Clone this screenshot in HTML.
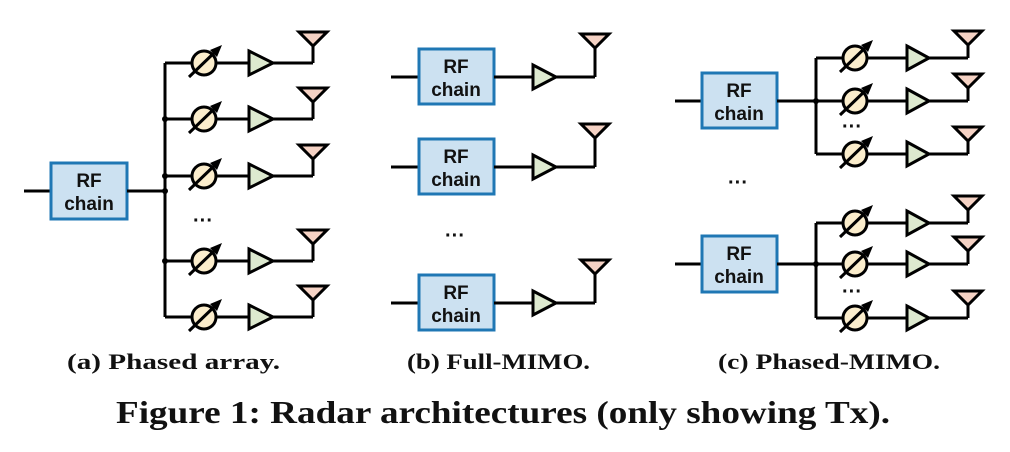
<!DOCTYPE html>
<html><head><meta charset="utf-8"><style>
html,body{margin:0;padding:0;background:#fff;}
svg{display:block;}
.rf{font-family:"Liberation Sans",sans-serif;font-weight:bold;font-size:19px;fill:#111;text-anchor:middle;}
.cap{font-family:"Liberation Serif",serif;font-weight:bold;font-size:22px;fill:#111;}
.dots{font-family:"Liberation Sans",sans-serif;font-weight:bold;font-size:20px;fill:#111;text-anchor:middle;}
</style></head><body>
<svg id="s" width="1010" height="452" viewBox="0 0 1010 452" xmlns="http://www.w3.org/2000/svg">
<g id="g" stroke="#000" stroke-width="3" fill="none"></g>
<text class="rf" x="89" y="187">RF</text><text class="rf" x="89" y="210">chain</text>
<text class="rf" x="456" y="73">RF</text><text class="rf" x="456" y="96">chain</text>
<text class="rf" x="456" y="163">RF</text><text class="rf" x="456" y="186">chain</text>
<text class="rf" x="456" y="299">RF</text><text class="rf" x="456" y="322">chain</text>
<text class="rf" x="739" y="97">RF</text><text class="rf" x="739" y="120">chain</text>
<text class="rf" x="739" y="260">RF</text><text class="rf" x="739" y="283">chain</text>
<text class="dots" x="203" y="227">···</text>
<text class="dots" x="455" y="242">···</text>
<text class="dots" x="738" y="189">···</text>
<text class="dots" x="852" y="133">···</text>
<text class="dots" x="852" y="298">···</text>
<text class="cap" x="67" y="369" textLength="213" lengthAdjust="spacingAndGlyphs">(a) Phased array.</text>
<text class="cap" x="407" y="369" textLength="183" lengthAdjust="spacingAndGlyphs">(b) Full-MIMO.</text>
<text class="cap" x="718" y="369" textLength="222" lengthAdjust="spacingAndGlyphs">(c) Phased-MIMO.</text>
<text class="cap" x="116" y="423" style="font-size:32px" textLength="774" lengthAdjust="spacingAndGlyphs">Figure 1: Radar architectures (only showing Tx).</text>
</svg>
<script>
var g=document.getElementById('g'),h='';
function L(x1,y1,x2,y2){h+='<line x1="'+x1+'" y1="'+y1+'" x2="'+x2+'" y2="'+y2+'"/>';}
function box(x1,y1,x2,y2){h+='<rect x="'+x1+'" y="'+y1+'" width="'+(x2-x1)+'" height="'+(y2-y1)+'" fill="#cce1f1" stroke="#1f77b4"/>';}
function amp(x1,x2,y){h+='<polygon points="'+x1+','+(y-12)+' '+x2+','+y+' '+x1+','+(y+12)+'" fill="#dde9cf"/>';}
function ant(x,y,yt){h+='<polyline points="'+x+','+y+' '+x+','+(yt+13)+'"/><polygon points="'+(x-14)+','+yt+' '+(x+14)+','+yt+' '+x+','+(yt+14)+'" fill="#f5d2c4"/>';}
function ps(cx,y){h+='<circle cx="'+cx+'" cy="'+y+'" r="12" fill="#fbedcc"/>';
 h+='<line x1="'+(cx-15)+'" y1="'+(y+14)+'" x2="'+(cx+11)+'" y2="'+(y-11)+'"/>';
 h+='<polygon points="'+(cx+18)+','+(y-18)+' '+(cx+6)+','+(y-13)+' '+(cx+13)+','+(y-6)+'" fill="#000" stroke="none"/>';}
function dot(x,y){h+='<circle cx="'+x+'" cy="'+y+'" r="3" fill="#000" stroke="none"/>';}
function branch(bus,y,cx,a1,a2,ax,ytop){L(bus,y,a1,y);ps(cx,y);amp(a1,a2,y);L(a2,y,ax,y);ant(ax,y,ytop);}
L(24,191,51,191);box(51,163,127,219);L(127,191,165,191);
L(165,63,165,317);
[63,119,176,261,317].forEach(function(y){branch(165,y,204,249,273,313,y-31);});
[119,176,191,261].forEach(function(y){dot(165,y);});
[[77,49,104],[167,139,194],[303,275,330]].forEach(function(r){var y=r[0];L(391,y,419,y);box(419,r[1],494,r[2]);L(494,y,533,y);amp(533,556,y);L(556,y,595,y);ant(595,y,y-43);});
[[101,73,128,[58,101,154]],[264,236,292,[223,264,318]]].forEach(function(r){var y=r[0];L(675,y,702,y);box(702,r[1],777,r[2]);L(777,y,816,y);
 L(816,r[3][0],816,r[3][2]);dot(816,y);
 r[3].forEach(function(yy){branch(816,yy,855,907,929,968,yy-27);});});
g.innerHTML=h;
</script>
</body></html>
